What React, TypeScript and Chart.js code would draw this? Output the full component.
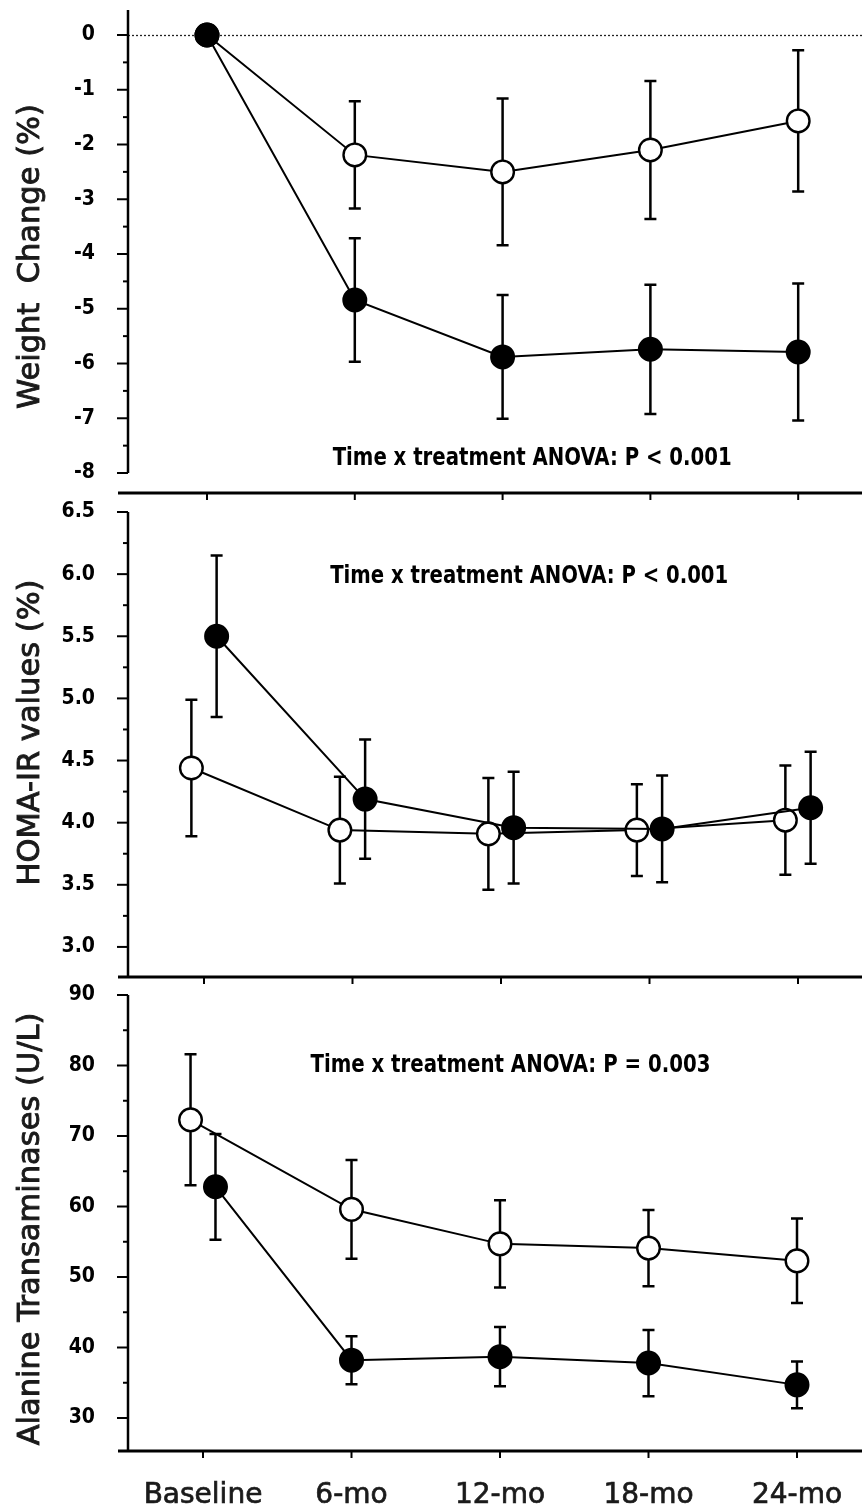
import React, { useEffect, useRef } from 'react';
import { Chart, registerables } from 'chart.js';

Chart.register(...registerables);

// ---------- data ----------
const categories = ['Baseline', '6-mo', '12-mo', '18-mo', '24-mo'];

const weightControl = [0, -2.19, -2.5, -2.1, -1.57];
const weightControlSE = [0, 0.98, 1.34, 1.26, 1.29];
const weightTreated = [0, -4.84, -5.88, -5.74, -5.79];
const weightTreatedSE = [0, 1.13, 1.13, 1.18, 1.25];

const homaControl = [4.44, 3.94, 3.91, 3.94, 4.02];
const homaControlSE = [0.55, 0.43, 0.45, 0.37, 0.44];
const homaTreated = [5.5, 4.19, 3.96, 3.95, 4.12];
const homaTreatedSE = [0.65, 0.48, 0.45, 0.43, 0.45];

const altControl = [72.3, 59.6, 54.7, 54.1, 52.3];
const altControlSE = [9.3, 7.0, 6.2, 5.4, 6.0];
const altTreated = [62.8, 38.2, 38.7, 37.8, 34.7];
const altTreatedSE = [7.5, 3.4, 4.2, 4.7, 3.3];

const weightTicks = [0, -1, -2, -3, -4, -5, -6, -7, -8];
const homaTicks = [6.5, 6.0, 5.5, 5.0, 4.5, 4.0, 3.5, 3.0];
const altTicks = [90, 80, 70, 60, 50, 40, 30];

const weightTitle = 'Weight  Change (%)';
const homaTitle = 'HOMA-IR values (%)';
const altTitle = 'Alanine Transaminases (U/L)';

const weightNote = 'Time x treatment ANOVA: P < 0.001';
const homaNote = 'Time x treatment ANOVA: P < 0.001';
const altNote = 'Time x treatment ANOVA: P = 0.003';

// ---------- styling ----------
const NARROW = "'Liberation Sans Narrow', 'DejaVu Sans Condensed', 'Liberation Sans', sans-serif";
const SANS = "'DejaVu Sans', 'Open Sans', sans-serif";
const HOMA_DODGE = 0.085;
const ALT_BASE_DODGE = 0.084;

type Series = { values: number[]; se: number[]; filled: boolean; dodge: (i: number) => number };
type Cfg = {
  top: number; height: number; padTop: number; xAxisH: number;
  xMin: number; xMax: number; yMin: number; yMax: number; yAxisEnd: number | null;
  ticks: number[]; fmt: (v: number) => string; title: string; titleShift: number;
  note: string; noteX: number; noteY: number; noteW: number;
  zeroLine: boolean; showXLabels: boolean; series: Series[];
};

const panels: Cfg[] = [
  {
    top: -10, height: 517, padTop: 20, xAxisH: 14,
    xMin: -0.5345, xMax: 4.4317, yMin: -8.365, yMax: 0.4566, yAxisEnd: -8,
    ticks: weightTicks, fmt: (v) => String(v), title: weightTitle, titleShift: 5,
    note: weightNote, noteX: 2.2, noteY: -7.85, noteW: 399,
    zeroLine: true, showXLabels: false,
    series: [
      { values: weightTreated, se: weightTreatedSE, filled: true, dodge: () => 0 },
      { values: weightControl, se: weightControlSE, filled: false, dodge: () => 0 },
    ],
  },
  {
    top: 495, height: 496, padTop: 17, xAxisH: 14,
    xMin: -0.5118, xMax: 4.431, yMin: 2.758, yMax: 6.5, yAxisEnd: null,
    ticks: homaTicks, fmt: (v) => v.toFixed(1), title: homaTitle, titleShift: -12,
    note: homaNote, noteX: 2.19, noteY: 5.93, noteW: 398,
    zeroLine: false, showXLabels: false,
    series: [
      { values: homaTreated, se: homaTreatedSE, filled: true, dodge: () => HOMA_DODGE },
      { values: homaControl, se: homaControlSE, filled: false, dodge: () => -HOMA_DODGE },
    ],
  },
  {
    top: 980, height: 530, padTop: 15, xAxisH: 59,
    xMin: -0.5051, xMax: 4.4377, yMin: 25.32, yMax: 90, yAxisEnd: null,
    ticks: altTicks, fmt: (v) => String(v), title: altTitle, titleShift: 6,
    note: altNote, noteX: 2.07, noteY: 79.1, noteW: 400,
    zeroLine: false, showXLabels: true,
    series: [
      { values: altTreated, se: altTreatedSE, filled: true, dodge: (i) => (i === 0 ? ALT_BASE_DODGE : 0) },
      { values: altControl, se: altControlSE, filled: false, dodge: (i) => (i === 0 ? -ALT_BASE_DODGE : 0) },
    ],
  },
];

function makeFrame(cfg: Cfg) {
  return {
    id: 'frame',
    beforeDatasetsDraw(chart: any) {
      const ctx = chart.ctx;
      const xs = chart.scales.x;
      const ys = chart.scales.y;
      const area = chart.chartArea;
      ctx.save();
      if (cfg.zeroLine) {
        ctx.setLineDash([2, 2]);
        ctx.lineWidth = 1.3;
        ctx.strokeStyle = '#222';
        const py = Math.round(ys.getPixelForValue(0)) + 0.5;
        ctx.beginPath();
        ctx.moveTo(area.left, py);
        ctx.lineTo(area.right, py);
        ctx.stroke();
        ctx.setLineDash([]);
      }
      ctx.lineWidth = 2.5;
      ctx.strokeStyle = '#000';
      cfg.series.forEach((s) => {
        s.values.forEach((v, i) => {
          const e = s.se[i];
          if (!e) return;
          const px = xs.getPixelForValue(i + s.dodge(i));
          const t = ys.getPixelForValue(v + e);
          const b = ys.getPixelForValue(v - e);
          ctx.beginPath();
          ctx.moveTo(px, t);
          ctx.lineTo(px, b);
          ctx.moveTo(px - 6, t);
          ctx.lineTo(px + 6, t);
          ctx.moveTo(px - 6, b);
          ctx.lineTo(px + 6, b);
          ctx.stroke();
        });
      });
      ctx.restore();
    },
    afterDraw(chart: any) {
      const ctx = chart.ctx;
      const xs = chart.scales.x;
      const ys = chart.scales.y;
      const area = chart.chartArea;
      ctx.save();
      ctx.strokeStyle = '#000';
      const yEnd = cfg.yAxisEnd === null ? area.bottom : ys.getPixelForValue(cfg.yAxisEnd);
      ctx.lineWidth = 2.5;
      ctx.beginPath();
      ctx.moveTo(area.left, area.top);
      ctx.lineTo(area.left, yEnd);
      ctx.stroke();
      ctx.lineWidth = 2;
      const majors = cfg.ticks;
      majors.forEach((v) => {
        const py = ys.getPixelForValue(v);
        ctx.beginPath();
        ctx.moveTo(area.left - 11, py);
        ctx.lineTo(area.left, py);
        ctx.stroke();
      });
      for (let k = 0; k < majors.length - 1; k++) {
        const py = ys.getPixelForValue((majors[k] + majors[k + 1]) / 2);
        ctx.beginPath();
        ctx.moveTo(area.left - 5, py);
        ctx.lineTo(area.left, py);
        ctx.stroke();
      }
      ctx.lineWidth = 3;
      ctx.beginPath();
      ctx.moveTo(area.left - 10, area.bottom);
      ctx.lineTo(area.right, area.bottom);
      ctx.stroke();
      ctx.lineWidth = 2;
      categories.forEach((_, i) => {
        const px = xs.getPixelForValue(i);
        ctx.beginPath();
        ctx.moveTo(px, area.bottom);
        ctx.lineTo(px, area.bottom + 7);
        ctx.stroke();
      });

      // y-axis title (slightly emboldened)
      ctx.save();
      ctx.font = `30.5px ${SANS}`;
      ctx.fillStyle = '#1a1a1a';
      ctx.strokeStyle = '#1a1a1a';
      ctx.lineWidth = 0.9;
      ctx.textAlign = 'center';
      ctx.textBaseline = 'middle';
      ctx.translate(ys.left + 31, (area.top + area.bottom) / 2 + cfg.titleShift);
      ctx.rotate(-Math.PI / 2);
      ctx.fillText(cfg.title, 0, 0);
      ctx.strokeText(cfg.title, 0, 0);
      ctx.restore();

      // annotation
      ctx.font = `bold 25px ${NARROW}`;
      ctx.fillStyle = '#000';
      ctx.textAlign = 'center';
      ctx.textBaseline = 'alphabetic';
      const w = ctx.measureText(cfg.note).width;
      ctx.translate(xs.getPixelForValue(cfg.noteX), ys.getPixelForValue(cfg.noteY));
      ctx.scale(cfg.noteW / w, 1);
      ctx.fillText(cfg.note, 0, 0);
      ctx.restore();
    },
  };
}

function Panel({ cfg }: { cfg: Cfg }) {
  const ref = useRef<HTMLCanvasElement>(null);
  useEffect(() => {
    const canvas = ref.current!;
    const datasets = cfg.series.map((s) => ({
      data: s.values.map((v, i) => ({ x: i + s.dodge(i), y: v })),
      borderColor: '#000',
      backgroundColor: s.filled ? '#000' : '#fff',
      borderWidth: 2,
      pointRadius: 11.3,
      pointBorderWidth: 2.4,
      pointBackgroundColor: s.filled ? '#000' : '#fff',
      pointBorderColor: '#000',
      pointHoverRadius: 11.3,
      tension: 0,
      fill: false,
      clip: false as any,
    }));
    const chart = new Chart(canvas, {
      type: 'line',
      data: { datasets },
      options: {
        animation: false,
        responsive: false,
        maintainAspectRatio: false,
        events: [],
        layout: { autoPadding: false, padding: { top: cfg.padTop, left: 0, right: 0, bottom: 0 } },
        plugins: { legend: { display: false }, tooltip: { enabled: false } },
        scales: {
          x: {
            type: 'linear',
            position: 'bottom',
            min: cfg.xMin,
            max: cfg.xMax,
            grid: { display: false, drawTicks: true, tickLength: 28 },
            border: { display: false },
            afterBuildTicks: (s: any) => {
              s.ticks = categories.map((_, i) => ({ value: i }));
            },
            afterFit: (s: any) => {
              s.height = cfg.xAxisH;
            },
            ticks: {
              display: cfg.showXLabels,
              autoSkip: false,
              maxRotation: 0,
              padding: 0,
              color: '#1a1a1a',
              textStrokeColor: '#1a1a1a',
              textStrokeWidth: 0.7,
              font: { family: SANS, size: 28, weight: 'normal' as any },
              callback: (v: any) => categories[Math.round(Number(v))] ?? '',
            },
          },
          y: {
            type: 'linear',
            min: cfg.yMin,
            max: cfg.yMax,
            grid: { display: false, drawTicks: true, tickLength: 33 },
            border: { display: false },
            afterBuildTicks: (s: any) => {
              s.ticks = cfg.ticks.map((v) => ({ value: v }));
            },
            afterFit: (s: any) => {
              s.width = 128;
            },
            ticks: {
              padding: 0,
              color: '#000',
              font: { family: NARROW, size: 21, weight: 'bold' as any },
              callback: (v: any) => cfg.fmt(Number(v)),
            },
            title: { display: false, text: cfg.title },
          },
        },
      },
      plugins: [makeFrame(cfg)],
    });
    return () => chart.destroy();
  }, [cfg]);
  return (
    <canvas
      ref={ref}
      width={862}
      height={cfg.height}
      style={{ position: 'absolute', left: 0, top: cfg.top, width: 862, height: cfg.height }}
    />
  );
}

export default function App() {
  return (
    <div style={{ position: 'absolute', left: 0, top: 0, width: 862, height: 1510, background: '#fff', overflow: 'hidden' }}>
      {panels.map((p, i) => (
        <Panel key={i} cfg={p} />
      ))}
    </div>
  );
}
